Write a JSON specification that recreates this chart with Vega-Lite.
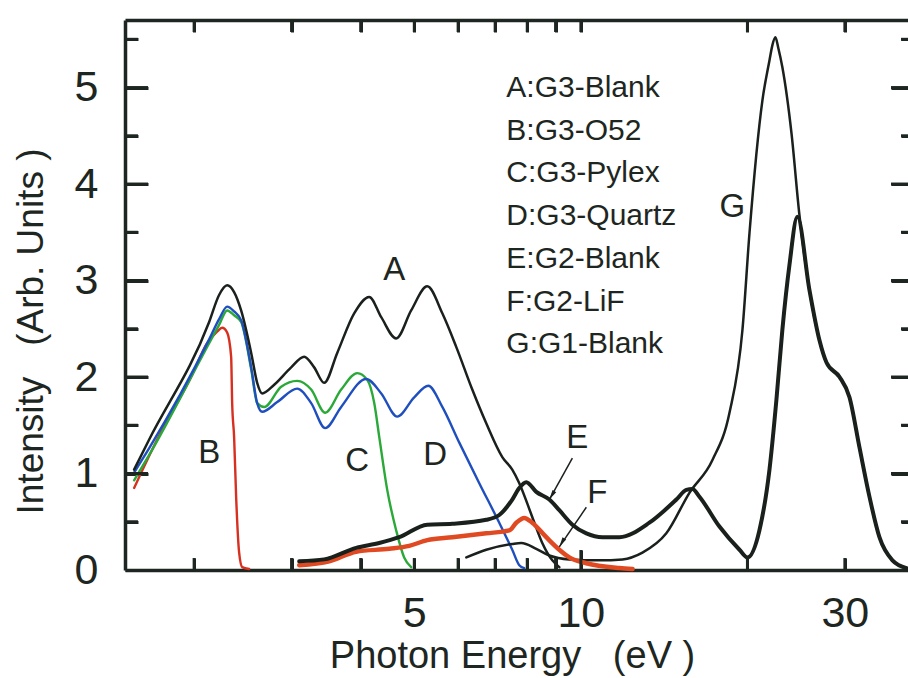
{
  "$schema": "https://vega.github.io/schema/vega-lite/v6.json",
  "width": 789,
  "height": 550,
  "autosize": {"type": "none"},
  "padding": {"left": 125, "top": 20, "right": -6, "bottom": 108},
  "background": "white",
  "config": {
    "view": {"stroke": null},
    "font": "Liberation Sans",
    "axis": {
      "grid": false,
      "zindex": 1,
      "domainColor": "#1e2622",
      "tickColor": "#1e2622",
      "domainWidth": 3.5,
      "tickWidth": 3,
      "labelColor": "#1e2622",
      "titleColor": "#1e2622",
      "labelFont": "Liberation Sans",
      "titleFont": "Liberation Sans",
      "titleFontWeight": "normal",
      "labelOverlap": false,
      "labelFlush": false
    }
  },
  "datasets": {
    "curves": [
      {"s": "A", "E": 1.558, "I": 1.04}, {"s": "A", "E": 1.658, "I": 1.35}, {"s": "A", "E": 2.129, "I": 2.57}, {"s": "A", "E": 2.219, "I": 2.85}, {"s": "A", "E": 2.295, "I": 2.95}, {"s": "A", "E": 2.362, "I": 2.88}, {"s": "A", "E": 2.432, "I": 2.69}, {"s": "A", "E": 2.536, "I": 2.25}, {"s": "A", "E": 2.6, "I": 1.94}, {"s": "A", "E": 2.655, "I": 1.83}, {"s": "A", "E": 2.791, "I": 1.92}, {"s": "A", "E": 2.995, "I": 2.1}, {"s": "A", "E": 3.162, "I": 2.21}, {"s": "A", "E": 3.296, "I": 2.1}, {"s": "A", "E": 3.436, "I": 1.94}, {"s": "A", "E": 3.628, "I": 2.25}, {"s": "A", "E": 3.893, "I": 2.66}, {"s": "A", "E": 4.145, "I": 2.83}, {"s": "A", "E": 4.357, "I": 2.62}, {"s": "A", "E": 4.637, "I": 2.4}, {"s": "A", "E": 4.935, "I": 2.69}, {"s": "A", "E": 5.277, "I": 2.94}, {"s": "A", "E": 5.618, "I": 2.66}, {"s": "A", "E": 5.955, "I": 2.31}, {"s": "A", "E": 6.364, "I": 1.87}, {"s": "A", "E": 6.745, "I": 1.52}, {"s": "A", "E": 7.211, "I": 1.17}, {"s": "A", "E": 7.516, "I": 1.04}, {"s": "A", "E": 7.739, "I": 0.9}, {"s": "A", "E": 8.168, "I": 0.55}, {"s": "A", "E": 8.516, "I": 0.28}, {"s": "A", "E": 8.88, "I": 0.1}, {"s": "A", "E": 9.142, "I": 0.03},
      {"s": "B", "E": 1.558, "I": 0.85}, {"s": "B", "E": 1.714, "I": 1.35}, {"s": "B", "E": 1.975, "I": 2.0}, {"s": "B", "E": 2.111, "I": 2.35}, {"s": "B", "E": 2.201, "I": 2.47}, {"s": "B", "E": 2.247, "I": 2.51}, {"s": "B", "E": 2.295, "I": 2.46}, {"s": "B", "E": 2.333, "I": 2.21}, {"s": "B", "E": 2.343, "I": 1.73}, {"s": "B", "E": 2.362, "I": 1.38}, {"s": "B", "E": 2.382, "I": 0.76}, {"s": "B", "E": 2.412, "I": 0.18}, {"s": "B", "E": 2.443, "I": 0.03}, {"s": "B", "E": 2.514, "I": 0.01},
      {"s": "C", "E": 1.558, "I": 0.93}, {"s": "C", "E": 1.658, "I": 1.19}, {"s": "C", "E": 2.129, "I": 2.35}, {"s": "C", "E": 2.219, "I": 2.54}, {"s": "C", "E": 2.295, "I": 2.69}, {"s": "C", "E": 2.362, "I": 2.64}, {"s": "C", "E": 2.432, "I": 2.57}, {"s": "C", "E": 2.536, "I": 2.08}, {"s": "C", "E": 2.6, "I": 1.73}, {"s": "C", "E": 2.677, "I": 1.69}, {"s": "C", "E": 2.873, "I": 1.9}, {"s": "C", "E": 3.071, "I": 1.96}, {"s": "C", "E": 3.255, "I": 1.87}, {"s": "C", "E": 3.451, "I": 1.63}, {"s": "C", "E": 3.688, "I": 1.87}, {"s": "C", "E": 3.943, "I": 2.04}, {"s": "C", "E": 4.11, "I": 1.97}, {"s": "C", "E": 4.232, "I": 1.73}, {"s": "C", "E": 4.321, "I": 1.38}, {"s": "C", "E": 4.467, "I": 0.83}, {"s": "C", "E": 4.637, "I": 0.41}, {"s": "C", "E": 4.793, "I": 0.13}, {"s": "C", "E": 4.935, "I": 0.03},
      {"s": "D", "E": 1.558, "I": 1.01}, {"s": "D", "E": 1.658, "I": 1.26}, {"s": "D", "E": 2.129, "I": 2.39}, {"s": "D", "E": 2.219, "I": 2.6}, {"s": "D", "E": 2.295, "I": 2.73}, {"s": "D", "E": 2.362, "I": 2.68}, {"s": "D", "E": 2.432, "I": 2.59}, {"s": "D", "E": 2.536, "I": 2.1}, {"s": "D", "E": 2.6, "I": 1.73}, {"s": "D", "E": 2.655, "I": 1.64}, {"s": "D", "E": 2.826, "I": 1.74}, {"s": "D", "E": 3.071, "I": 1.88}, {"s": "D", "E": 3.255, "I": 1.73}, {"s": "D", "E": 3.451, "I": 1.47}, {"s": "D", "E": 3.688, "I": 1.69}, {"s": "D", "E": 4.093, "I": 1.98}, {"s": "D", "E": 4.357, "I": 1.83}, {"s": "D", "E": 4.656, "I": 1.59}, {"s": "D", "E": 4.998, "I": 1.79}, {"s": "D", "E": 5.299, "I": 1.91}, {"s": "D", "E": 5.618, "I": 1.69}, {"s": "D", "E": 6.029, "I": 1.32}, {"s": "D", "E": 6.552, "I": 0.9}, {"s": "D", "E": 7.12, "I": 0.49}, {"s": "D", "E": 7.516, "I": 0.21}, {"s": "D", "E": 7.739, "I": 0.05}, {"s": "D", "E": 7.901, "I": 0.02},
      {"s": "E", "E": 3.097, "I": 0.09}, {"s": "E", "E": 3.436, "I": 0.11}, {"s": "E", "E": 3.926, "I": 0.23}, {"s": "E", "E": 4.321, "I": 0.28}, {"s": "E", "E": 4.695, "I": 0.34}, {"s": "E", "E": 5.277, "I": 0.47}, {"s": "E", "E": 5.856, "I": 0.48}, {"s": "E", "E": 6.745, "I": 0.52}, {"s": "E", "E": 7.12, "I": 0.57}, {"s": "E", "E": 7.516, "I": 0.73}, {"s": "E", "E": 7.739, "I": 0.85}, {"s": "E", "E": 7.968, "I": 0.91}, {"s": "E", "E": 8.306, "I": 0.81}, {"s": "E", "E": 8.77, "I": 0.73}, {"s": "E", "E": 9.142, "I": 0.62}, {"s": "E", "E": 9.652, "I": 0.47}, {"s": "E", "E": 10.23, "I": 0.38}, {"s": "E", "E": 10.94, "I": 0.34}, {"s": "E", "E": 11.74, "I": 0.34}, {"s": "E", "E": 13.3, "I": 0.49}, {"s": "E", "E": 14.88, "I": 0.73}, {"s": "E", "E": 15.51, "I": 0.83}, {"s": "E", "E": 15.91, "I": 0.84}, {"s": "E", "E": 16.38, "I": 0.76}, {"s": "E", "E": 17.8, "I": 0.45}, {"s": "E", "E": 19.35, "I": 0.21}, {"s": "E", "E": 20.0, "I": 0.13}, {"s": "E", "E": 21.02, "I": 0.41}, {"s": "E", "E": 21.92, "I": 1.04}, {"s": "E", "E": 22.56, "I": 1.76}, {"s": "E", "E": 23.13, "I": 2.49}, {"s": "E", "E": 23.82, "I": 3.16}, {"s": "E", "E": 24.62, "I": 3.66}, {"s": "E", "E": 25.89, "I": 2.9}, {"s": "E", "E": 26.99, "I": 2.38}, {"s": "E", "E": 27.79, "I": 2.15}, {"s": "E", "E": 29.34, "I": 2.0}, {"s": "E", "E": 30.58, "I": 1.79}, {"s": "E", "E": 31.88, "I": 1.27}, {"s": "E", "E": 33.23, "I": 0.76}, {"s": "E", "E": 34.64, "I": 0.34}, {"s": "E", "E": 36.57, "I": 0.1}, {"s": "E", "E": 38.77, "I": 0.02},
      {"s": "F", "E": 3.097, "I": 0.05}, {"s": "F", "E": 3.509, "I": 0.09}, {"s": "F", "E": 3.926, "I": 0.19}, {"s": "F", "E": 4.504, "I": 0.22}, {"s": "F", "E": 4.895, "I": 0.25}, {"s": "F", "E": 5.277, "I": 0.31}, {"s": "F", "E": 5.856, "I": 0.34}, {"s": "F", "E": 6.745, "I": 0.38}, {"s": "F", "E": 7.423, "I": 0.41}, {"s": "F", "E": 7.644, "I": 0.49}, {"s": "F", "E": 7.901, "I": 0.54}, {"s": "F", "E": 8.168, "I": 0.49}, {"s": "F", "E": 8.659, "I": 0.34}, {"s": "F", "E": 9.142, "I": 0.21}, {"s": "F", "E": 9.53, "I": 0.13}, {"s": "F", "E": 10.23, "I": 0.07}, {"s": "F", "E": 11.74, "I": 0.02}, {"s": "F", "E": 12.4, "I": 0.01},
      {"s": "G", "E": 6.208, "I": 0.13}, {"s": "G", "E": 6.745, "I": 0.21}, {"s": "G", "E": 7.516, "I": 0.27}, {"s": "G", "E": 7.803, "I": 0.28}, {"s": "G", "E": 8.306, "I": 0.22}, {"s": "G", "E": 8.77, "I": 0.15}, {"s": "G", "E": 9.53, "I": 0.11}, {"s": "G", "E": 10.8, "I": 0.1}, {"s": "G", "E": 11.89, "I": 0.11}, {"s": "G", "E": 12.92, "I": 0.18}, {"s": "G", "E": 14.27, "I": 0.38}, {"s": "G", "E": 15.71, "I": 0.8}, {"s": "G", "E": 17.29, "I": 1.14}, {"s": "G", "E": 18.56, "I": 1.63}, {"s": "G", "E": 19.59, "I": 2.49}, {"s": "G", "E": 20.17, "I": 3.49}, {"s": "G", "E": 21.29, "I": 4.87}, {"s": "G", "E": 21.92, "I": 5.28}, {"s": "G", "E": 22.19, "I": 5.44}, {"s": "G", "E": 22.47, "I": 5.52}, {"s": "G", "E": 22.74, "I": 5.41}, {"s": "G", "E": 23.13, "I": 5.21}, {"s": "G", "E": 24.02, "I": 4.53}, {"s": "G", "E": 24.83, "I": 3.68}, {"s": "G", "E": 25.89, "I": 2.9}, {"s": "G", "E": 26.99, "I": 2.38}, {"s": "G", "E": 27.79, "I": 2.15}, {"s": "G", "E": 29.34, "I": 2.0}, {"s": "G", "E": 30.58, "I": 1.79}, {"s": "G", "E": 31.88, "I": 1.27}, {"s": "G", "E": 33.23, "I": 0.76}, {"s": "G", "E": 34.64, "I": 0.34}, {"s": "G", "E": 36.57, "I": 0.1}, {"s": "G", "E": 38.77, "I": 0.02}
    ],
    "labels": [
      {"t": "A", "E": 4.599, "I": 3.01},
      {"t": "B", "E": 2.129, "I": 1.11},
      {"t": "C", "E": 3.943, "I": 1.03},
      {"t": "D", "E": 5.456, "I": 1.09},
      {"t": "E", "E": 9.854, "I": 1.26},
      {"t": "F", "E": 10.71, "I": 0.69},
      {"t": "G", "E": 18.79, "I": 3.66}
    ],
    "legend": [
      {"t": "A:G3-Blank", "E": 7.332, "I": 4.902},
      {"t": "B:G3-O52", "E": 7.332, "I": 4.459},
      {"t": "C:G3-Pylex", "E": 7.332, "I": 4.017},
      {"t": "D:G3-Quartz", "E": 7.332, "I": 3.574},
      {"t": "E:G2-Blank", "E": 7.332, "I": 3.132},
      {"t": "F:G2-LiF", "E": 7.332, "I": 2.689},
      {"t": "G:G1-Blank", "E": 7.332, "I": 2.247}
    ],
    "arrows": [
      {"E1": 9.652, "I1": 1.16, "E2": 8.77, "I2": 0.73},
      {"E1": 10.23, "I1": 0.65, "E2": 9.142, "I2": 0.24}
    ],
    "xticks": [
      {"v": 2, "k": "minor"}, {"v": 3, "k": "minor"}, {"v": 4, "k": "minor"}, {"v": 5, "k": "minor"}, {"v": 6, "k": "minor"}, {"v": 7, "k": "minor"}, {"v": 8, "k": "minor"}, {"v": 9, "k": "minor"}, {"v": 10, "k": "major"}, {"v": 20, "k": "minor"}, {"v": 30, "k": "minor"}
    ],
    "yticks": [
      {"v": 0.5, "k": "minor"}, {"v": 1, "k": "major"}, {"v": 1.5, "k": "minor"}, {"v": 2, "k": "major"}, {"v": 2.5, "k": "minor"}, {"v": 3, "k": "major"}, {"v": 3.5, "k": "minor"}, {"v": 4, "k": "major"}, {"v": 4.5, "k": "minor"}, {"v": 5, "k": "major"}, {"v": 5.5, "k": "minor"}
    ]
  },
  "resolve": {"axis": {"x": "independent", "y": "independent"}},
  "layer": [
    {
      "data": {"name": "curves"},
      "transform": [{"filter": "datum.s === 'B' || datum.s === 'C' || datum.s === 'D'"}],
      "mark": {"type": "line", "interpolate": "monotone", "strokeCap": "round", "strokeJoin": "round", "strokeWidth": 2.4},
      "encoding": {
        "x": {
          "field": "E", "type": "quantitative",
          "scale": {"type": "log", "domain": [1.5, 40], "nice": false},
          "axis": {
            "orient": "bottom",
            "values": [2, 3, 4, 5, 6, 7, 8, 9, 10, 20, 30],
            "tickSize": {"condition": {"test": "datum.value === 10", "value": -20}, "value": -12},
            "labelPadding": {"condition": {"test": "datum.value === 10", "value": 42}, "value": 34},
            "labelExpr": "datum.value === 5 || datum.value === 10 || datum.value === 30 ? format(datum.value, 'd') : ''",
            "labelFontSize": 43,
            "title": "Photon Energy\u00a0\u00a0\u00a0(eV\u00a0)",
            "titleFontSize": 38,
            "titleBaseline": "alphabetic",
            "titleX": 387,
            "titleY": 97
          }
        },
        "y": {
          "field": "I", "type": "quantitative",
          "scale": {"domain": [0, 5.7], "nice": false},
          "axis": {
            "orient": "left",
            "values": [0, 0.5, 1, 1.5, 2, 2.5, 3, 3.5, 4, 4.5, 5, 5.5],
            "tickSize": {"condition": {"test": "datum.value % 1 === 0", "value": -23}, "value": -13},
            "labelExpr": "datum.value % 1 === 0 ? format(datum.value, 'd') : ''",
            "labelFontSize": 43,
            "labelPadding": 50,
            "title": "Intensity\u00a0\u00a0\u00a0(Arb. Units\u00a0)",
            "titleFontSize": 37,
            "titleBaseline": "alphabetic",
            "titleX": -83,
            "titleY": 311
          }
        },
        "color": {
          "field": "s", "type": "nominal",
          "scale": {"domain": ["B", "C", "D"], "range": ["#d63020", "#2aa838", "#1f4fbf"]},
          "legend": null
        }
      }
    },
    {
      "data": {"name": "legend"},
      "mark": {"type": "text", "align": "left", "baseline": "alphabetic", "fontSize": 30, "color": "#1e2622"},
      "encoding": {
        "x": {
          "field": "E", "type": "quantitative",
          "scale": {"type": "log", "domain": [1.5, 40], "nice": false},
          "axis": {"orient": "top", "values": [2, 3, 4, 5, 6, 7, 8, 9, 10, 20, 30], "tickSize": -12, "labels": false, "title": null}
        },
        "y": {
          "field": "I", "type": "quantitative",
          "scale": {"domain": [0, 5.7], "nice": false},
          "axis": {
            "orient": "right",
            "values": [0, 0.5, 1, 1.5, 2, 2.5, 3, 3.5, 4, 4.5, 5, 5.5],
            "tickSize": {"condition": {"test": "datum.value % 1 === 0", "value": -23}, "value": -13},
            "labels": false, "title": null
          }
        },
        "text": {"field": "t"}
      }
    },
    {
      "data": {"name": "curves"},
      "transform": [{"filter": "datum.s === 'A' || datum.s === 'G'"}],
      "mark": {"type": "line", "interpolate": "monotone", "strokeCap": "round", "strokeJoin": "round", "strokeWidth": 2.5, "color": "#1a201c"},
      "encoding": {
        "x": {"field": "E", "type": "quantitative", "scale": {"type": "log", "domain": [1.5, 40], "nice": false}, "axis": null},
        "y": {"field": "I", "type": "quantitative", "scale": {"domain": [0, 5.7], "nice": false}, "axis": null},
        "detail": {"field": "s", "type": "nominal"}
      }
    },
    {
      "data": {"name": "curves"},
      "transform": [{"filter": "datum.s === 'F'"}],
      "mark": {"type": "line", "interpolate": "monotone", "strokeCap": "round", "strokeJoin": "round", "strokeWidth": 4.5, "color": "#e04a22"},
      "encoding": {
        "x": {"field": "E", "type": "quantitative", "scale": {"type": "log", "domain": [1.5, 40], "nice": false}, "axis": null},
        "y": {"field": "I", "type": "quantitative", "scale": {"domain": [0, 5.7], "nice": false}, "axis": null}
      }
    },
    {
      "data": {"name": "curves"},
      "transform": [{"filter": "datum.s === 'E'"}],
      "mark": {"type": "line", "interpolate": "monotone", "strokeCap": "round", "strokeJoin": "round", "strokeWidth": 4, "color": "#1a201c"},
      "encoding": {
        "x": {"field": "E", "type": "quantitative", "scale": {"type": "log", "domain": [1.5, 40], "nice": false}, "axis": null},
        "y": {"field": "I", "type": "quantitative", "scale": {"domain": [0, 5.7], "nice": false}, "axis": null}
      }
    },
    {
      "data": {"name": "labels"},
      "mark": {"type": "text", "align": "center", "baseline": "alphabetic", "fontSize": 33, "color": "#1e2622"},
      "encoding": {
        "x": {"field": "E", "type": "quantitative", "scale": {"type": "log", "domain": [1.5, 40], "nice": false}, "axis": null},
        "y": {"field": "I", "type": "quantitative", "scale": {"domain": [0, 5.7], "nice": false}, "axis": null},
        "text": {"field": "t"}
      }
    },
    {
      "data": {"name": "arrows"},
      "mark": {"type": "rule", "color": "#1a201c", "strokeWidth": 1.5},
      "encoding": {
        "x": {"field": "E1", "type": "quantitative", "scale": {"type": "log", "domain": [1.5, 40], "nice": false}, "axis": null},
        "y": {"field": "I1", "type": "quantitative", "scale": {"domain": [0, 5.7], "nice": false}, "axis": null},
        "x2": {"field": "E2"},
        "y2": {"field": "I2"}
      }
    },
    {
      "data": {"name": "arrows"},
      "mark": {"type": "point", "shape": "M0,0L-0.35,1.6L0.35,1.6Z", "filled": true, "size": 150, "angle": 211, "color": "#1a201c", "opacity": 1},
      "encoding": {
        "x": {"field": "E2", "type": "quantitative", "scale": {"type": "log", "domain": [1.5, 40], "nice": false}, "axis": null},
        "y": {"field": "I2", "type": "quantitative", "scale": {"domain": [0, 5.7], "nice": false}, "axis": null}
      }
    },
    {
      "data": {"name": "xticks"},
      "transform": [{"filter": "datum.k === 'minor'"}],
      "mark": {"type": "rule", "color": "#1e2622", "strokeWidth": 3},
      "encoding": {
        "x": {"field": "v", "type": "quantitative", "scale": {"type": "log", "domain": [1.5, 40], "nice": false}, "axis": null},
        "y": {"datum": 0, "type": "quantitative", "scale": {"domain": [0, 5.7], "nice": false}, "axis": null},
        "y2": {"datum": 0.124}
      }
    },
    {
      "data": {"name": "xticks"},
      "transform": [{"filter": "datum.k === 'major'"}],
      "mark": {"type": "rule", "color": "#1e2622", "strokeWidth": 3},
      "encoding": {
        "x": {"field": "v", "type": "quantitative", "scale": {"type": "log", "domain": [1.5, 40], "nice": false}, "axis": null},
        "y": {"datum": 0, "type": "quantitative", "scale": {"domain": [0, 5.7], "nice": false}, "axis": null},
        "y2": {"datum": 0.207}
      }
    },
    {
      "data": {"name": "xticks"},
      "mark": {"type": "rule", "color": "#1e2622", "strokeWidth": 3},
      "encoding": {
        "x": {"field": "v", "type": "quantitative", "scale": {"type": "log", "domain": [1.5, 40], "nice": false}, "axis": null},
        "y": {"datum": 5.7, "type": "quantitative", "scale": {"domain": [0, 5.7], "nice": false}, "axis": null},
        "y2": {"datum": 5.576}
      }
    },
    {
      "data": {"name": "yticks"},
      "transform": [{"filter": "datum.k === 'major'"}],
      "mark": {"type": "rule", "color": "#1e2622", "strokeWidth": 3},
      "encoding": {
        "y": {"field": "v", "type": "quantitative", "scale": {"domain": [0, 5.7], "nice": false}, "axis": null},
        "x": {"datum": 1.5, "type": "quantitative", "scale": {"type": "log", "domain": [1.5, 40], "nice": false}, "axis": null},
        "x2": {"datum": 1.651}
      }
    },
    {
      "data": {"name": "yticks"},
      "transform": [{"filter": "datum.k === 'minor'"}],
      "mark": {"type": "rule", "color": "#1e2622", "strokeWidth": 3},
      "encoding": {
        "y": {"field": "v", "type": "quantitative", "scale": {"domain": [0, 5.7], "nice": false}, "axis": null},
        "x": {"datum": 1.5, "type": "quantitative", "scale": {"type": "log", "domain": [1.5, 40], "nice": false}, "axis": null},
        "x2": {"datum": 1.583}
      }
    },
    {
      "data": {"name": "yticks"},
      "transform": [{"filter": "datum.k === 'major'"}],
      "mark": {"type": "rule", "color": "#1e2622", "strokeWidth": 3},
      "encoding": {
        "y": {"field": "v", "type": "quantitative", "scale": {"domain": [0, 5.7], "nice": false}, "axis": null},
        "x": {"datum": 40, "type": "quantitative", "scale": {"type": "log", "domain": [1.5, 40], "nice": false}, "axis": null},
        "x2": {"datum": 36.35}
      }
    },
    {
      "data": {"name": "yticks"},
      "transform": [{"filter": "datum.k === 'minor'"}],
      "mark": {"type": "rule", "color": "#1e2622", "strokeWidth": 3},
      "encoding": {
        "y": {"field": "v", "type": "quantitative", "scale": {"domain": [0, 5.7], "nice": false}, "axis": null},
        "x": {"datum": 40, "type": "quantitative", "scale": {"type": "log", "domain": [1.5, 40], "nice": false}, "axis": null},
        "x2": {"datum": 37.89}
      }
    }
  ]
}
